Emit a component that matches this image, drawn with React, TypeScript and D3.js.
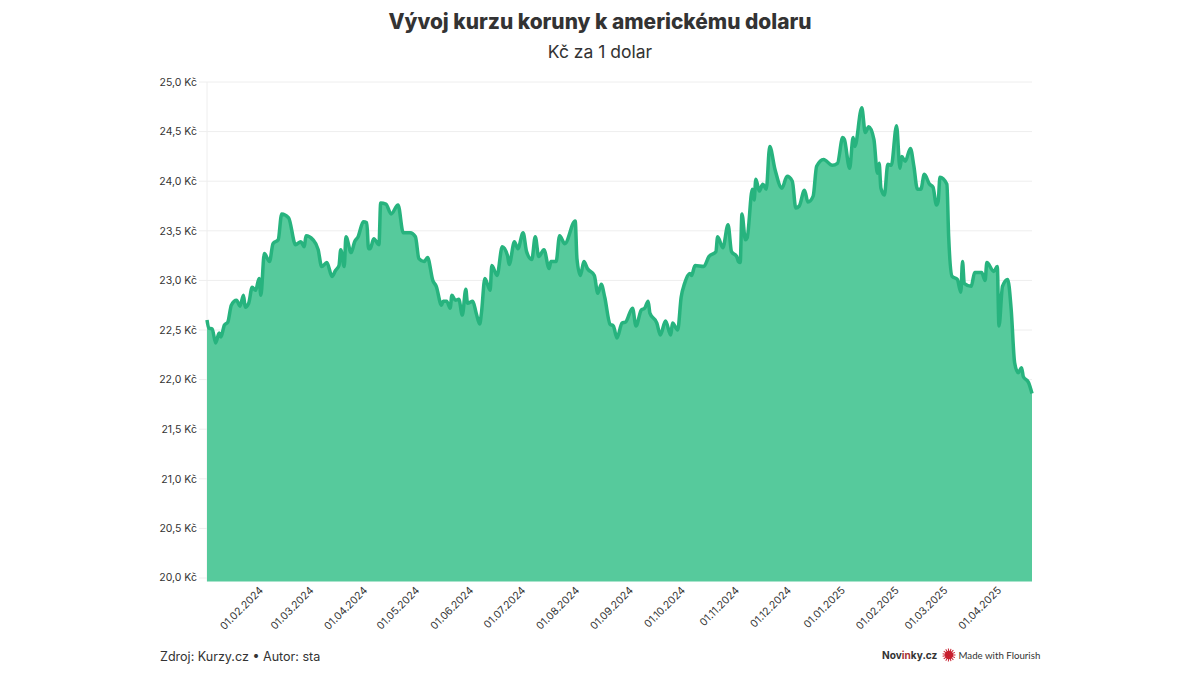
import React from "react";
import * as d3 from "d3";

const startDate = new Date(2024, 0, 1);
const dayOffsets = [0,1,3,5,7,8,10,12,14,17,19,21,22,24,26,28,30,31,33,36,38,41,43,47,51,54,56,57,61,64,66,69,72,74,76,77,79,80,83,85,87,90,92,93,94,96,99,100,103,106,110,113,117,120,122,125,127,130,132,135,136,138,140,
141,143,145,147,149,150,153,155,157,158,160,163,164,167,170,173,174,177,179,182,184,187,189,191,194,197,198,201,203,206,212,213,215,217,219,223,225,227,229,232,234,236,239,241,245,247,250,252,254,255,259,261,264,267,268,271,273,275,278,279,281,286,289,293,294,297,300,302,305,306,
307,308,310,311,314,315,316,318,320,322,324,327,331,334,337,339,341,344,346,349,351,355,360,363,366,367,370,372,373,377,379,381,384,386,387,388,390,392,394,397,399,400,402,405,407,409,411,413,416,418,420,421,422,426,427,429,432,434,435,436,440,442,446,448,449,453,455,456,458,461,463,465,467,469,470,473,475];
const rates = [22.60,22.52,22.51,22.37,22.47,22.43,22.55,22.58,22.75,22.80,22.74,22.85,22.73,22.77,22.93,22.90,23.02,22.85,23.27,23.19,23.37,23.41,23.67,23.63,23.36,23.39,23.34,23.45,23.41,23.31,23.14,23.18,23.04,23.10,23.15,23.31,23.14,23.44,23.28,23.39,23.44,23.59,23.58,23.32,23.32,23.42,23.36,23.78,23.77,23.67,23.76,23.48,23.48,23.44,23.22,23.19,23.23,23.00,22.94,22.75,22.79,22.79,22.72,
22.85,22.80,22.81,22.65,22.91,22.77,22.79,22.67,22.56,22.67,23.02,22.90,23.15,23.05,23.34,23.25,23.16,23.39,23.32,23.48,23.29,23.21,23.44,23.24,23.31,23.12,23.19,23.19,23.45,23.37,23.60,23.22,23.05,23.19,23.12,23.05,22.87,22.96,22.83,22.56,22.54,22.42,22.57,22.58,22.72,22.54,22.70,22.72,22.79,22.67,22.57,22.45,22.59,22.45,22.57,22.50,22.83,22.97,23.07,23.05,23.15,23.14,23.24,23.29,23.44,23.33,23.56,23.29,23.24,23.19,
23.18,23.67,23.41,23.43,23.92,23.81,24.02,23.90,23.97,23.92,24.35,24.12,23.93,24.05,24.00,23.73,23.75,23.91,23.79,23.85,24.15,24.22,24.16,24.18,24.44,24.42,24.13,24.44,24.35,24.74,24.49,24.55,24.42,24.08,24.18,23.93,23.86,24.17,24.16,24.56,24.13,24.25,24.20,24.33,24.15,23.92,23.92,24.07,23.97,23.94,23.76,23.80,24.04,23.97,23.45,23.04,23.01,22.88,23.19,22.97,22.94,23.08,23.08,23.00,23.18,23.09,23.14,22.54,22.94,23.01,22.71,22.17,22.07,22.12,22.03,21.97,21.86];
const yTicks = [20, 20.5, 21, 21.5, 22, 22.5, 23, 23.5, 24, 24.5, 25];
const xTicks = ["2024-02-01","2024-03-01","2024-04-01","2024-05-01","2024-06-01","2024-07-01","2024-08-01","2024-09-01","2024-10-01","2024-11-01","2024-12-01","2025-01-01","2025-02-01","2025-03-01","2025-04-01"];
const title = "Vývoj kurzu koruny k americkému dolaru";
const subtitle = "Kč za 1 dolar";
const burstAngles = d3.range(0, 360, 24);

const x = d3.scaleTime().domain([startDate, d3.timeDay.offset(startDate, 475)]).range([207, 1032]);
const y = d3.scaleLinear().domain([20, 25]).range([578, 82]);
const baseY = 581.5;

export default function App() {
  const pts = dayOffsets.map((d, i) => ({ date: d3.timeDay.offset(startDate, d), v: rates[i] }));
  const line = d3.line<any>().x(p => x(p.date)).y(p => y(p.v)).curve(d3.curveMonotoneX);
  const area = d3.area<any>().x(p => x(p.date)).y0(baseY).y1(p => y(p.v)).curve(d3.curveMonotoneX);
  const fmtY = (v: number) => d3.format(".1f")(v).replace(".", ",") + " Kč";
  const fmtX = d3.timeFormat("%d.%m.%Y");
  const parse = d3.timeParse("%Y-%m-%d");
  const font = "Inter, 'Noto Sans', sans-serif";
  return (
    <svg width={1200} height={675} viewBox="0 0 1200 675"
      style={{ position: "absolute", left: 0, top: 0, background: "#fff", fontFamily: font }}>
      <text x={600} y={29} textAnchor="middle" fontSize={20.9} fontWeight={800} fill="#333">{title}</text>
      <text x={600} y={58} textAnchor="middle" fontSize={17.5} fill="#333">{subtitle}</text>
      <line x1={207} x2={207} y1={82} y2={baseY} stroke="#eeeeee" />
      {yTicks.map(t => (
        <g key={t}>
          <line x1={199} x2={1032} y1={y(t)} y2={y(t)} stroke="#eeeeee" />
          <text x={197} y={y(t) + (t === 20 ? 2.5 : 3.7)} textAnchor="end" fontSize={10.5} fill="#333">{fmtY(t)}</text>
        </g>
      ))}
      <path d={area(pts) as string} fill="#56ca9c" />
      <path d={line(pts) as string} fill="none" stroke="#27b37e" strokeWidth={3.5} strokeLinejoin="round" />
      {xTicks.map(t => {
        const d = parse(t) as Date;
        return (
          <text key={t} transform={`translate(${x(d) + 3},591) rotate(-45)`} textAnchor="end" fontSize={10.5} fill="#333">
            {fmtX(d)}
          </text>
        );
      })}
      <text x={160} y={661} fontSize={12.55} fill="#333">Zdroj: Kurzy.cz • Autor: sta</text>
      <text x={882} y={659} fontSize={10.1} fontWeight={700} fill="#333">
        Nov<tspan fill="#a33">in</tspan>ky.cz
      </text>
      <g transform="translate(949,655)">
        <circle r={4.2} fill="#c8202f" />
        {burstAngles.map(a => (
          <line key={a} x2={6.5} stroke="#c8202f" strokeWidth={1} transform={`rotate(${a})`} />
        ))}
      </g>
      <text x={958.5} y={659} fontSize={9.7} fontFamily="Lato, sans-serif" fill="#333">Made with Flourish</text>
    </svg>
  );
}
